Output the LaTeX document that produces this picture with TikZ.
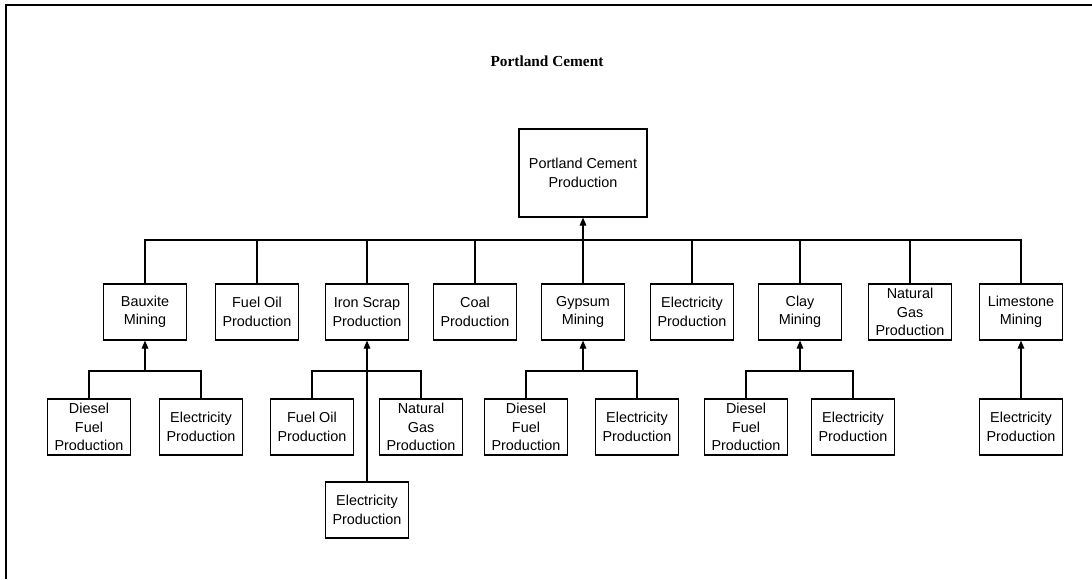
\documentclass[tikz,border=0pt]{standalone}
\usepackage{fontspec}
\setmainfont{Liberation Serif}
\setsansfont{Liberation Sans}
\usetikzlibrary{arrows.meta}
\begin{document}
\begin{tikzpicture}[x=0.75pt,y=-0.75pt,
  every node/.style={inner sep=0pt},
  box/.style={draw,line width=0.9pt,minimum width=62pt,minimum height=42pt,
    align=center,font=\sffamily\fontsize{10.8}{13.8}\selectfont},
  topbox/.style={box,minimum width=96pt,minimum height=66pt},
  link/.style={line width=0.8pt},
  feed/.style={link,-{Triangle[length=6pt,width=5pt]}},
  frameline/.style={line width=1.4pt}]
\useasboundingbox (0,0) rectangle (1092,579);
% frame edges
\coordinate (fr-tl) at (6,5);
\coordinate (fr-tr) at (1092,5);
\coordinate (fr-bl) at (6,579);
\draw[frameline] (fr-bl) -- (fr-tl) -- (fr-tr);
% title
\node[font=\bfseries\fontsize{11.5}{14}\selectfont] (title) at (547,61) {Portland Cement};
% root
\node[topbox] (pc) at (583,173) {Portland Cement\\Production};
% first level
\node[box] (bauxite) at (145,312) {Bauxite\\Mining};
\node[box] (fueloil) at (257,312) {Fuel Oil\\Production};
\node[box] (iron) at (367,312) {Iron Scrap\\Production};
\node[box] (coal) at (475,312) {Coal\\Production};
\node[box] (gypsum) at (583,312) {Gypsum\\Mining};
\node[box] (elec) at (692,312) {Electricity\\Production};
\node[box] (clay) at (800,312) {Clay\\Mining};
\node[box] (natgas) at (910,312) {Natural\\Gas\\Production};
\node[box] (lime) at (1021,312) {Limestone\\Mining};
% second level
\node[box] (bx-dsl) at (89,427) {Diesel\\Fuel\\Production};
\node[box] (bx-el) at (201,427) {Electricity\\Production};
\node[box] (ir-fo) at (312,427) {Fuel Oil\\Production};
\node[box] (ir-ng) at (421,427) {Natural\\Gas\\Production};
\node[box] (ir-el) at (367,510) {Electricity\\Production};
\node[box] (gy-dsl) at (526,427) {Diesel\\Fuel\\Production};
\node[box] (gy-el) at (637,427) {Electricity\\Production};
\node[box] (cl-dsl) at (746,427) {Diesel\\Fuel\\Production};
\node[box] (cl-el) at (853,427) {Electricity\\Production};
\node[box] (li-el) at (1021,427) {Electricity\\Production};
% main bus
\coordinate (bus-l) at (145,240);
\coordinate (bus-r) at (1021,240);
\draw[link] (bauxite.north) -- (bus-l) -- (bus-r) -- (lime.north);
\foreach \n in {fueloil,iron,coal,elec,clay,natgas}
  \draw[link] (\n.north) -- (\n.north |- bus-l);
\draw[feed] (gypsum.north) -- (pc.south);
% sub-buses
\coordinate (bx-j) at (145,371);
\draw[link] (bx-dsl.north) |- (bx-j) -| (bx-el.north);
\draw[feed] (bx-j) -- (bauxite.south);
\coordinate (ir-j) at (367,371);
\draw[link] (ir-fo.north) |- (ir-j) -| (ir-ng.north);
\draw[feed] (ir-el.north) -- (iron.south);
\coordinate (gy-j) at (583,371);
\draw[link] (gy-dsl.north) |- (gy-j) -| (gy-el.north);
\draw[feed] (gy-j) -- (gypsum.south);
\coordinate (cl-j) at (800,371);
\draw[link] (cl-dsl.north) |- (cl-j) -| (cl-el.north);
\draw[feed] (cl-j) -- (clay.south);
\draw[feed] (li-el.north) -- (lime.south);
\end{tikzpicture}
\end{document}
